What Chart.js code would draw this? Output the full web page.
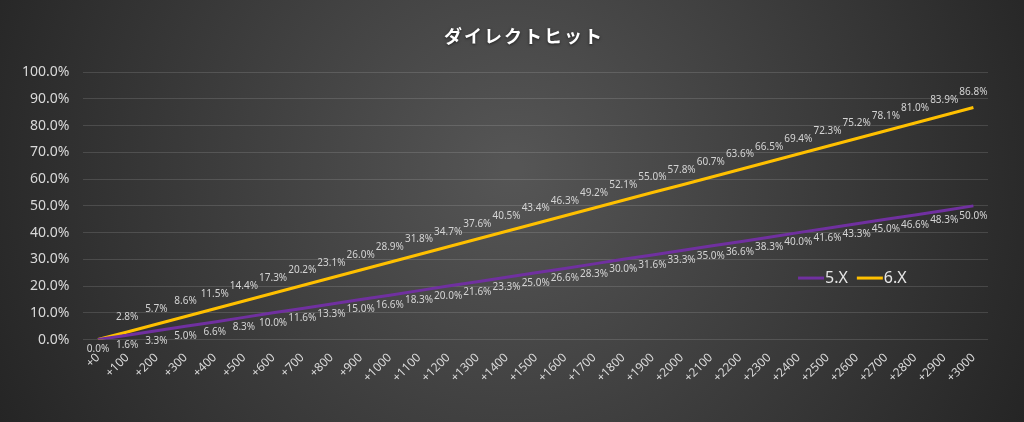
<!DOCTYPE html>
<html>
<head>
<meta charset="utf-8">
<script src="https://cdn.jsdelivr.net/npm/chart.js@4"></script>
<style>
  html, body { margin: 0; padding: 0; background: #2a2a2a; }
  #wrap { width: 1024px; height: 422px; }
</style>
</head>
<body>
<div id="wrap"><canvas id="myChart"></canvas></div>
<script>
var chart_title = 'ダイレクトヒット';
var labels_x = ['+0','+100','+200','+300','+400','+500','+600','+700','+800','+900','+1000','+1100','+1200','+1300','+1400','+1500','+1600','+1700','+1800','+1900','+2000','+2100','+2200','+2300','+2400','+2500','+2600','+2700','+2800','+2900','+3000'];
var data_5x = [0.0,1.6,3.3,5.0,6.6,8.3,10.0,11.6,13.3,15.0,16.6,18.3,20.0,21.6,23.3,25.0,26.6,28.3,30.0,31.6,33.3,35.0,36.6,38.3,40.0,41.6,43.3,45.0,46.6,48.3,50.0];
var data_6x = [0.0,2.8,5.7,8.6,11.5,14.4,17.3,20.2,23.1,26.0,28.9,31.8,34.7,37.6,40.5,43.4,46.3,49.2,52.1,55.0,57.8,60.7,63.6,66.5,69.4,72.3,75.2,78.1,81.0,83.9,86.8];

var FONT = "'Noto Sans', 'Noto Sans CJK JP', sans-serif";

// background gradient, like the office chart style
var bgPlugin = {
  id: 'bg',
  beforeDraw: function(chart) {
    var c = chart.ctx, w = chart.width, h = chart.height;
    var g = c.createRadialGradient(w * 0.5, h * 0.4, 10, w * 0.5, h * 0.4, w * 0.58);
    g.addColorStop(0, '#555555');
    g.addColorStop(1, '#232323');
    c.save();
    c.fillStyle = g;
    c.fillRect(0, 0, w, h);
    c.restore();
  }
};

// title text, spaced out a bit (the built-in title only keeps the room for it)
var titlePlugin = {
  id: 'ttl',
  afterDraw: function(chart) {
    var c = chart.ctx;
    c.save();
    c.font = 'bold 18px ' + FONT;
    c.letterSpacing = '2px';
    c.fillStyle = '#ffffff';
    c.textAlign = 'center';
    c.textBaseline = 'middle';
    c.shadowColor = 'rgba(0,0,0,0.6)';
    c.shadowBlur = 3;
    c.shadowOffsetY = 1;
    c.fillText(chart_title, 524, 38);
    c.restore();
  }
};

// value labels: 6.X above the line, 5.X below
var labelPlugin = {
  id: 'vlabels',
  afterDatasetsDraw: function(chart) {
    var c = chart.ctx;
    c.save();
    c.font = '10px ' + FONT;
    c.fillStyle = '#d4d4d4';
    c.textAlign = 'center';
    c.textBaseline = 'middle';
    chart.data.datasets.forEach(function(ds, di) {
      var meta = chart.getDatasetMeta(di);
      meta.data.forEach(function(pt, i) {
        if (di == 1 && i == 0) return;
        var txt = ds.data[i].toFixed(1) + '%';
        var dy = di == 1 ? -15 : 10;
        c.fillText(txt, pt.x, pt.y + dy);
      });
    });
    c.restore();
  }
};

// legend drawn inside the plot area
var legendPlugin = {
  id: 'inlegend',
  afterDraw: function(chart) {
    var c = chart.ctx;
    var a = chart.chartArea;
    var x = a.left + (a.right - a.left) * 0.79;
    var y = chart.scales.y.getPixelForValue(23);
    c.save();
    c.font = '16px ' + FONT;
    c.textBaseline = 'middle';
    chart.data.datasets.forEach(function(ds) {
      c.strokeStyle = ds.borderColor;
      c.lineWidth = 3;
      c.beginPath();
      c.moveTo(x, y);
      c.lineTo(x + 26, y);
      c.stroke();
      c.fillStyle = '#e6e6e6';
      c.fillText(ds.label, x + 27, y);
      x += 27 + c.measureText(ds.label).width + 9;
    });
    c.restore();
  }
};

var ctx = document.getElementById('myChart').getContext('2d');
var myChart = new Chart(ctx, {
  type: 'line',
  data: {
    labels: labels_x,
    datasets: [
      {
        label: '5.X',
        data: data_5x,
        borderColor: '#7030A0',
        borderWidth: 3,
        pointRadius: 0,
        fill: false,
        tension: 0
      },
      {
        label: '6.X',
        data: data_6x,
        borderColor: '#FFC000',
        borderWidth: 3,
        pointRadius: 0,
        fill: false,
        tension: 0
      }
    ]
  },
  options: {
    responsive: true,
    maintainAspectRatio: false,
    animation: false,
    layout: { padding: { left: 8, right: 36, top: 10, bottom: 34 } },
    plugins: {
      legend: { display: false },
      tooltip: { enabled: false },
      title: {
        display: true,
        text: chart_title,
        color: 'rgba(0,0,0,0)',
        font: { family: FONT, size: 16, weight: 'bold' },
        padding: { top: 20, bottom: 23 }
      }
    },
    scales: {
      x: {
        offset: true,
        grid: { display: false },
        border: { display: false },
        ticks: {
          color: '#d9d9d9',
          font: { family: FONT, size: 12 },
          maxRotation: 45,
          minRotation: 45,
          autoSkip: false
        }
      },
      y: {
        min: 0,
        max: 100,
        ticks: {
          stepSize: 10,
          color: '#d9d9d9',
          font: { family: FONT, size: 14 },
          padding: 14,
          callback: function(v) { return v.toFixed(1) + '%'; }
        },
        grid: { color: 'rgba(255,255,255,0.13)', drawTicks: false },
        border: { display: false }
      }
    }
  },
  plugins: [bgPlugin, labelPlugin, legendPlugin, titlePlugin]
});
</script>
</body>
</html>
